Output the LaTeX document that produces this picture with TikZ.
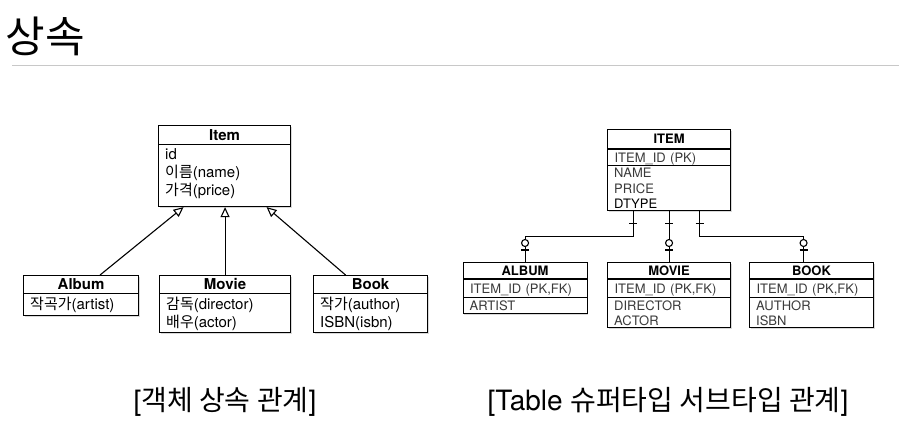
\documentclass[tikz,border=0pt]{standalone}
\usepackage{fontspec}
\setmainfont{TeX Gyre Heros}
\newfontfamily\kr{Noto Sans CJK KR}
\usepackage{tikz}
\usetikzlibrary{arrows.meta,shadows}

\definecolor{rulegray}{HTML}{C8C8C8}
\definecolor{fieldgray}{HTML}{3A3A3A}

\tikzset{
  box/.style={draw, fill=white, line width=1.1pt, inner sep=0pt, anchor=north west,
    drop shadow={shadow xshift=1.3pt, shadow yshift=-1.3pt, opacity=0.3}},
  classhd/.style={draw, line width=1.1pt, inner sep=0pt, anchor=north,
    font=\fontsize{15}{15}\selectfont\bfseries, text height=10.8pt, text depth=0pt},
  classbd/.style={inner xsep=7pt, inner ysep=3pt, anchor=north west, align=left,
    font=\fontsize{15}{18}\selectfont},
  tablehd/.style={draw, line width=1.1pt, inner sep=0pt, anchor=north,
    font=\fontsize{13}{13}\selectfont\bfseries, text height=9.4pt, text depth=0pt},
  tablepk/.style={draw, line width=1.1pt, inner xsep=7pt, inner ysep=0pt, anchor=north,
    align=left, text=fieldgray, font=\fontsize{13}{13}\selectfont,
    text height=9.4pt, text depth=0pt},
  tablebd/.style={inner xsep=7pt, inner ysep=2pt, anchor=north west, align=left,
    text=fieldgray, font=\fontsize{13}{15.3}\selectfont},
  inherit/.style={-{Triangle[open,length=10pt,width=9pt]}, line width=1.1pt},
  erline/.style={line width=1.1pt}
}

\begin{document}
\begin{tikzpicture}[x=1pt,y=-1pt]
  \useasboundingbox (0,0) rectangle (899,423);

  % title
  \node[anchor=base west, font=\fontsize{43}{43}\kr] (title) at (2,52) {상속};
  \draw[rulegray, line width=1pt] (12,65) -- (899,65);

  % object inheritance
  \node[box, minimum width=132pt, minimum height=81pt] (item) at (158,125) {};
  \node[classhd, minimum width=132pt, minimum height=19pt] (itemhd) at (item.north) {Item};
  \node[classbd, text width=118pt] (itembd) at (itemhd.south west)
    {id\\{\kr 이름}(name)\\{\kr 가격}(price)};

  \node[box, minimum width=115pt, minimum height=40pt] (album) at (23,275) {};
  \node[classhd, minimum width=115pt, minimum height=18pt] (albumhd) at (album.north) {Album};
  \node[classbd, text width=101pt] (albumbd) at (albumhd.south west) {{\kr 작곡가}(artist)};

  \node[box, minimum width=131pt, minimum height=57pt] (movie) at (159,275) {};
  \node[classhd, minimum width=131pt, minimum height=18pt] (moviehd) at (movie.north) {Movie};
  \node[classbd, text width=117pt] (moviebd) at (moviehd.south west)
    {{\kr 감독}(director)\\{\kr 배우}(actor)};

  \node[box, minimum width=114pt, minimum height=57pt] (book) at (313,275) {};
  \node[classhd, minimum width=114pt, minimum height=18pt] (bookhd) at (book.north) {Book};
  \node[classbd, text width=100pt] (bookbd) at (bookhd.south west)
    {{\kr 작가}(author)\\ISBN(isbn)};

  \draw[inherit] ([xshift=19pt]album.north) -- ([xshift=-41pt]item.south);
  \draw[inherit] (movie.north) -- (movie.north |- item.south);
  \draw[inherit] ([xshift=-25pt]book.north) -- ([xshift=42pt]item.south);

  % table super/sub type
  \node[box, minimum width=123pt, minimum height=81pt] (tbitem) at (607,129) {};
  \node[tablehd, minimum width=123pt, minimum height=19pt] (tbitemhd) at (tbitem.north) {ITEM};
  \node[tablepk, text width=109pt, minimum height=16pt] (tbitempk) at (tbitemhd.south) {ITEM\_ID (PK)};
  \node[tablebd, text width=109pt] (tbitembd) at (tbitempk.south west)
    {NAME\\PRICE\\\textcolor{black}{DTYPE}};

  \node[box, minimum width=124pt, minimum height=51pt] (tbalbum) at (462.5,262) {};
  \node[tablehd, minimum width=124pt, minimum height=16pt] (tbalbumhd) at (tbalbum.north) {ALBUM};
  \node[tablepk, text width=110pt, minimum height=18pt] (tbalbumpk) at (tbalbumhd.south) {ITEM\_ID (PK,FK)};
  \node[tablebd, text width=110pt] (tbalbumbd) at (tbalbumpk.south west) {ARTIST};

  \node[box, minimum width=123pt, minimum height=65pt] (tbmovie) at (607,262) {};
  \node[tablehd, minimum width=123pt, minimum height=16pt] (tbmoviehd) at (tbmovie.north) {MOVIE};
  \node[tablepk, text width=109pt, minimum height=18pt] (tbmoviepk) at (tbmoviehd.south) {ITEM\_ID (PK,FK)};
  \node[tablebd, text width=109pt] (tbmoviebd) at (tbmoviepk.south west) {DIRECTOR\\ACTOR};

  \node[box, minimum width=124pt, minimum height=65pt] (tbbook) at (749,262) {};
  \node[tablehd, minimum width=124pt, minimum height=16pt] (tbbookhd) at (tbbook.north) {BOOK};
  \node[tablepk, text width=110pt, minimum height=18pt] (tbbookpk) at (tbbookhd.south) {ITEM\_ID (PK,FK)};
  \node[tablebd, text width=110pt] (tbbookbd) at (tbbookpk.south west) {AUTHOR\\ISBN};

  \draw[erline] ([xshift=-36pt]tbitem.south) -- ++(0,25) -| (tbalbum.north);
  \draw[erline] (tbmovie.north |- tbitem.south) -- (tbmovie.north);
  \draw[erline] ([xshift=30.5pt]tbitem.south) -- ++(0,25) -| ([xshift=-8pt]tbbook.north);

  \foreach \dx in {-36,0,30.5}
    \draw[erline] ([xshift=\dx pt, yshift=-12pt]tbitem.south) ++(-4,0) -- ++(8,0);
  \foreach \tb/\dx in {tbalbum/0, tbmovie/0, tbbook/-8} {
    \draw[erline] ([xshift=\dx pt, yshift=12pt]\tb.north) ++(-4,0) -- ++(8,0);
    \draw[erline, fill=white] ([xshift=\dx pt, yshift=19pt]\tb.north) circle[radius=3.5pt];
  }

  % captions
  \node[anchor=base, font=\fontsize{28}{28}\selectfont] (objcap) at (225,410)
    {[{\kr 객체 상속 관계}]};
  \node[anchor=base, font=\fontsize{28}{28}\selectfont] (tablecap) at (668,410)
    {[Table {\kr 슈퍼타입 서브타입 관계}]};
\end{tikzpicture}
\end{document}
